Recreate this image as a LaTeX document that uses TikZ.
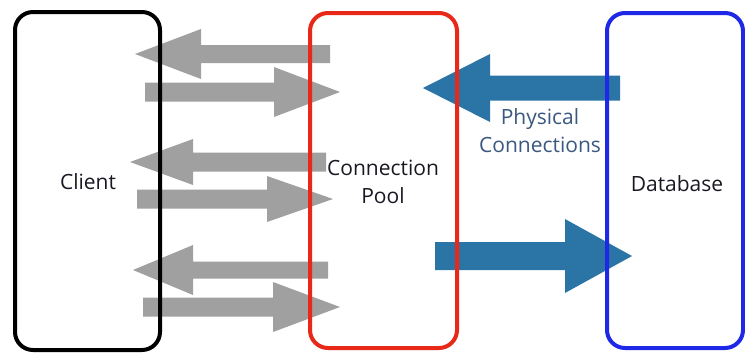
\documentclass[tikz,border=0pt]{standalone}
\usepackage{fontspec}
\setmainfont{Open Sans}
\definecolor{arrowgray}{RGB}{160,160,160}
\definecolor{arrowblue}{RGB}{42,116,166}
\definecolor{labelblue}{RGB}{58,88,128}
\definecolor{poolred}{RGB}{232,40,24}
\definecolor{dbblue}{RGB}{30,40,230}
\definecolor{textdark}{RGB}{25,25,35}
% block arrow: tail x, tip x, centre y, shaft half-width, head half-width, head length, colour
\newcommand{\blockarrow}[7]{%
  \pgfmathsetmacro{\dirsign}{(#2>#1)?1:-1}%
  \pgfmathsetmacro{\headbase}{#2-\dirsign*#6}%
  \fill[#7] (#1,#3-#4) -- (\headbase,#3-#4) -- (\headbase,#3-#5) -- (#2,#3)
     -- (\headbase,#3+#5) -- (\headbase,#3+#4) -- (#1,#3+#4) -- cycle;}
\begin{document}
\begin{tikzpicture}[x=1pt,y=-1pt,
  boxstyle/.style={draw=#1,line width=4pt,rounded corners=18pt,fill=none,inner sep=0pt},
  txt/.style={font=\fontsize{21}{28}\selectfont,text=textdark,align=center},
  lbl/.style={font=\fontsize{21}{28}\selectfont,text=labelblue,align=center}]
\useasboundingbox (0,0) rectangle (745,354);
% gray arrows
\blockarrow{330}{135}{54}{9}{25}{66}{arrowgray}
\blockarrow{145}{340}{92}{9.5}{25}{66}{arrowgray}
\blockarrow{326}{130}{162}{9.5}{23}{63}{arrowgray}
\blockarrow{137}{333}{199}{9.5}{23}{66}{arrowgray}
\blockarrow{328}{133}{270}{8.5}{25}{60}{arrowgray}
\blockarrow{143}{340}{307}{9.5}{25}{67}{arrowgray}
% blue arrows
\blockarrow{620}{423}{88}{12.5}{34}{67}{arrowblue}
\blockarrow{435}{632}{256}{14}{37}{67}{arrowblue}
% boxes
\node[boxstyle=black,minimum width=145pt,minimum height=338pt] (client) at (87.5,181) {};
\node[boxstyle=poolred,minimum width=147pt,minimum height=335pt] (pool) at (383.5,180.5) {};
\node[boxstyle=dbblue,minimum width=136pt,minimum height=335pt] (db) at (675,180.5) {};
% labels
\node[txt] (clientlbl) at (88,182) {Client};
\node[txt] (poollbl) at (383,182) {Connection\\Pool};
\node[txt] (dblbl) at (677,184) {Database};
\node[lbl] (phys) at (540,131) {Physical\\Connections};
\end{tikzpicture}
\end{document}
